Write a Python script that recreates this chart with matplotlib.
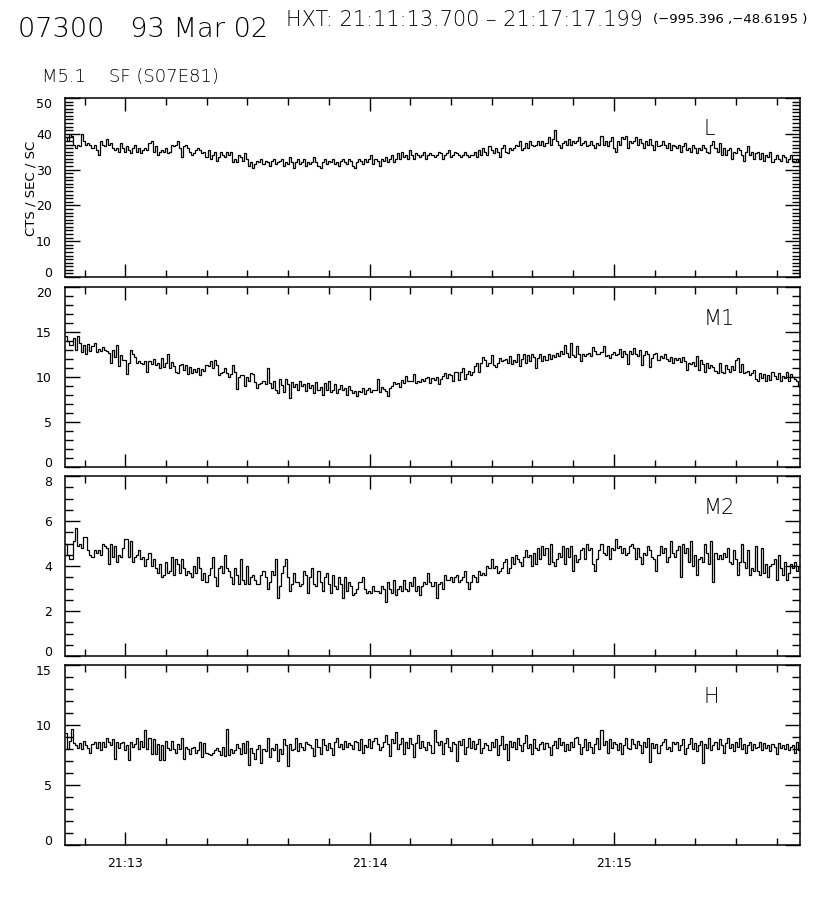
import numpy as np
import matplotlib
matplotlib.use("Agg")
import matplotlib.pyplot as plt
from matplotlib.ticker import MultipleLocator, FixedLocator

# ---------------- data (counts / sec / SC, 0.5 s bins) ----------------
t_start = 45.2          # seconds after 21:12:00
bin_sec = 0.5

L_vals = [
 39,38,40,39.5,37,36,37,36.5,40,38,37,37.5,37,36,37,35.5,34,38,37,36.5,
 38.5,37,37.5,36,35.5,36,35,37.5,36,35,36.5,35.5,34.5,36,37,35,36,34.5,35.5,36,
 35.5,37.5,38,35,36.5,34,35,35.5,35,36,34.5,35,37,36.5,37,38,36,33.5,36.5,37,
 36,35,34,34.5,35.5,36,35.5,34.5,35,33.5,35.5,33,34,35,32.5,33.5,35,34,33.5,35,
 34,35,32,33,32,34,33.5,32.5,34.5,33,31,32,30.5,31.5,32.5,32,33,31.5,32.5,32,
 31,32.5,33,31.5,32,32.5,33,31,32,31.5,33.5,32,30.5,32,33,31.5,32,33,31,32,
 31.5,32,33.5,32,31,30.5,32,33,31.5,32.5,32,33,31.5,32,31,32.5,33,32,31.5,33,
 32.5,31,30.5,32,33,32.5,31.5,33,32,33,34,31.5,33,32.5,31,33,32.5,33.5,32,33,
 34,32,33,34.5,33,35,33.5,34,33,35.5,34,33,34.5,34,33.5,34,35,33,34,34.5,
 34,33.5,34,35,34.5,33,34,34.5,35.5,33.5,34,35,34.5,34,33.5,34,35,34,33.5,34,
 34,35,33.5,35.5,34,36,35,34,36.5,35.5,34.5,36,35,33.5,36,37,35,34.5,36,35.5,
 36,37,36.5,38,35.5,36,37.5,36,38,37,36.5,37,38,37,38,36.5,37.5,39,37,38.5,
 41,38,37,36,37.5,38,37,38.5,37,38,37.5,38,39,37,37.5,38,36.5,37,38,37,
 36,37.5,37,39.5,37,38,36.5,38,39,36,35,38,37,39,38.5,39.5,36,38,37.5,38,
 39,37,38.5,37.5,36,38,37,38.5,37,35.5,38,36.5,37,38,37,36,37.5,35.5,37,36.5,
 36,37,35,36.5,37.5,35.5,36,35,37,36,34.5,36,35.5,37,36,35,34.5,37,38,36,
 35,37.5,34,36,34,35.5,36,33,35,34.5,36,35.5,34,32.5,35,36.5,34,35,33,34.5,
 35,33,34.5,32.5,34,33.5,35,32,33,34,33,32.5,34,33.5,32,33,34,32.5,32,33,
 32.5]

M1_vals = [
 14.5,14,13.5,13.5,14.3,13,14.5,13.8,12.8,13.6,12.6,13.7,12.9,13.4,13.8,12.8,13.1,12.9,13.3,13.0,
 12.9,12.7,11.6,13,12.2,13.5,11.2,12.4,11.9,11.9,10.3,11.5,13,12.5,12.2,11.5,11.8,11.6,11.4,11.8,
 10.5,11.8,11.4,12,11.3,11.6,11,12.1,11.1,11.6,12.6,11,11.7,11.2,10.6,10.4,11.3,11.4,10.8,11.3,
 10.3,11.1,10.4,10.9,10.6,11,10.2,10.9,10.7,11.3,11.2,11.8,11,11.9,11.3,10.2,10.4,10.6,11,10.4,
 10,10.3,11.3,10.5,8.7,10,10.2,10.2,9,10,9.6,10.4,10.3,9.4,8.8,9.2,9.3,9.5,9.2,11,
 9.3,8.8,9.6,8.6,8.2,9.8,9.1,8.3,9.8,9.2,7.7,9.4,8.9,9.2,8.5,9.5,9,9.2,8.4,9.3,
 8.8,9.1,8.2,9.4,8.6,8.9,8,9.3,8.5,9.6,8.3,8.6,9.2,8.2,8.7,9.1,8.5,8.8,8,9,
 8.6,8.2,8.4,7.9,8.4,8.3,8.8,8.1,8.6,8.8,8.3,8.5,8.5,9.8,8.3,8.9,8.7,8.4,7.9,8.8,
 9,9.4,9.2,9.3,8.9,9.7,9.3,10.1,9.6,9.5,9.6,10.3,9.3,9.5,9.4,9.8,9.5,9.9,10,9.3,
 9.9,9.7,10,9.2,9.8,10.1,10.4,9.9,10.3,10.2,9.6,10.5,10.6,9.7,10.6,11,9.8,10.3,10.7,10.2,
 10.6,11.2,11.5,10.5,11.5,12.2,11.9,11.2,11.5,12.4,11.3,11.1,11.6,12.1,11.8,11.9,12,11.5,12.3,11.4,
 11.9,11.7,12.5,11.2,12,12.6,11.6,12.4,11.8,12.5,12.2,11,12.1,12.6,11.8,12.3,11.9,12.5,12,12.4,
 12.2,12.7,12.3,12.9,12.5,13.5,12.7,12.2,13.8,12.4,12.2,13.4,12.5,11.8,12.6,12.3,12.5,12.7,12.3,13.3,
 12.9,12.6,12.5,12.8,13.4,12.3,12.4,12.1,12.6,12.8,12.4,12.6,13.1,12.2,12.9,12.6,11.4,12.9,12.6,13.2,
 12.5,12.3,13,11.3,12.4,12.9,12.6,11.1,12.1,12.6,12.7,11.9,12.3,12.1,12.5,12,11.8,12.2,11.6,12.1,
 11.9,12.1,11.7,12.2,11.8,10.8,11.6,11.4,11.7,11.2,12.3,10.8,11.9,11.4,10.6,11.6,11,11.3,11.1,10.7,
 10.4,11.5,10.6,10.4,11.3,10.9,10.6,11.2,10.8,11.9,12.1,10.5,11.4,10.4,10.5,10.7,10.2,10.4,10.8,9.8,
 9.5,10.4,9.9,10.3,9.6,10.2,9.7,10.5,10.1,9.8,10.4,9.5,10.1,9.9,10.6,9.5,10.3,10,9.8,9.6,
 9.0]

M2_vals = [
 5.0,4.5,4.3,4.3,5.1,5.7,4.9,5.0,4.8,5.3,5.3,4.7,4.5,4.4,4.7,4.6,4.7,4.5,5.0,4.9,
 4.8,4.1,5.0,4.4,4.9,4.2,4.5,4.4,4.8,5.2,5.2,4.4,5.1,4.2,4.4,4.5,4.7,4.3,4.4,4.0,
 4.3,4.6,4.0,4.3,3.9,3.7,4.1,3.5,3.6,4.2,3.7,3.8,4.4,3.6,4.3,4.1,3.7,4.3,3.9,3.6,
 3.8,3.7,3.5,4.0,3.7,4.4,3.9,3.4,3.7,3.3,3.6,3.9,4.4,3.5,3.1,3.9,4.0,3.7,4.5,3.9,
 3.8,3.5,3.2,3.9,3.6,3.2,4.3,3.4,3.2,4.0,3.2,3.5,3.6,3.4,3.2,3.2,3.6,3.8,3.5,3.0,
 3.3,3.8,3.6,4.3,2.6,3.1,3.7,4.0,4.3,3.5,2.9,3.2,3.7,3.3,3.3,3.1,3.2,3.8,3.6,2.8,
 3.5,3.9,3.2,3.1,3.8,3.3,2.9,3.5,3.7,3.2,2.8,3.6,3.1,3.0,3.5,3.2,2.6,3.5,2.9,3.3,
 3.1,2.7,2.8,3.0,3.3,3.3,3.5,3.0,2.8,2.9,2.8,3.1,2.9,2.9,2.8,3.1,3.0,2.4,3.3,3.0,
 2.8,3.4,2.7,3.0,3.1,2.9,3.4,3.0,2.9,3.3,3.1,3.5,2.9,3.1,2.7,3.1,3.3,3.2,3.7,3.3,
 3.1,3.3,2.6,3.2,3.3,3.0,3.6,3.4,3.4,3.5,3.3,3.5,3.6,3.3,3.4,3.5,3.8,3.3,3.0,3.3,
 3.6,3.5,3.3,3.8,3.6,3.7,3.6,4.0,3.9,4.3,3.9,4.0,3.7,3.8,3.9,4.2,4.3,3.7,3.9,4.4,
 4.1,4.5,4.3,4.2,4.0,4.4,4.7,4.4,4.5,4.0,4.6,4.1,4.8,4.3,4.9,4.5,4.8,4.1,5.0,4.2,
 4.0,4.3,4.6,4.4,4.9,4.1,4.8,4.4,4.9,3.8,4.5,4.2,4.3,4.7,4.8,4.3,5.0,4.7,4.8,4.1,
 3.8,4.3,4.7,5.0,4.6,4.5,4.9,4.3,4.8,4.7,5.2,4.8,4.9,4.6,4.8,4.5,4.6,4.9,5.0,4.8,
 4.3,4.8,4.4,4.1,4.6,4.5,4.9,4.7,4.4,4.3,3.8,4.5,4.9,4.6,4.8,4.2,4.4,5.1,4.6,4.4,
 4.7,4.9,3.5,5.0,4.6,4.8,4.2,5.1,4.0,4.5,3.6,4.3,4.4,4.2,5.0,4.6,4.1,5.1,3.3,4.6,
 4.3,4.5,4.3,4.6,4.4,4.8,4.2,4.1,4.7,4.3,3.6,4.2,5.0,4.2,3.9,4.7,3.6,3.9,3.8,4.9,
 3.8,3.6,4.8,3.7,4.1,3.5,4.0,4.1,4.3,3.4,4.5,3.9,3.6,4.2,3.4,3.7,4.1,3.9,4.2,3.8,
 4.0]

H_vals = [
 9.3,8.0,8.7,9.7,8.5,8.3,8.1,8.5,8.0,8.7,8.3,8.1,7.7,8.4,8.6,8.1,8.6,7.9,8.6,8.2,
 8.9,8.6,8.3,8.8,7.2,8.6,8.1,8.5,8.6,7.9,8.3,7.1,8.6,8.2,8.4,8.9,8.0,8.7,8.2,9.6,
 8.0,8.9,7.6,8.8,7.6,8.4,7.1,8.3,7.1,8.7,8.1,7.9,8.7,8.0,7.7,8.4,8.0,8.9,7.2,8.2,
 8.0,7.6,8.1,8.2,7.7,7.9,8.6,7.3,8.5,7.7,7.6,7.5,7.7,7.9,8.1,7.8,7.5,8.2,7.4,9.7,
 7.5,8.0,7.7,7.9,8.4,8.1,7.6,8.5,7.7,8.7,6.7,8.1,7.7,7.2,8.0,8.3,6.8,8.0,7.8,8.9,
 7.3,8.1,7.9,8.4,7.0,8.0,7.6,8.8,8.3,6.6,8.4,7.9,8.0,8.9,7.8,8.5,8.2,7.9,8.6,8.4,
 8.3,8.1,7.4,8.8,8.2,7.6,8.8,8.3,7.9,8.5,8.1,7.5,8.6,8.9,8.2,8.4,8.0,8.7,8.2,8.5,
 8.3,8.0,8.7,8.6,7.9,8.8,7.7,8.3,8.2,8.8,8.1,8.7,8.9,8.4,7.9,8.2,8.6,9.2,8.4,7.4,
 8.8,8.5,9.4,8.0,8.4,8.9,7.6,8.6,8.1,8.9,8.4,7.3,8.5,9.2,8.1,8.7,8.2,7.9,8.6,8.3,
 7.7,9.6,8.6,8.3,8.7,7.6,8.5,8.9,8.2,7.8,8.6,8.4,7.0,8.7,8.3,8.8,7.6,8.2,8.9,8.1,
 8.7,8.0,8.4,8.8,7.7,8.1,8.5,8.3,7.9,8.6,8.2,8.8,7.5,8.3,9.1,8.0,8.4,7.1,8.7,8.2,
 8.6,8.0,8.9,8.3,7.8,8.5,9.2,8.1,8.4,7.6,8.8,8.1,7.9,8.4,8.6,8.0,8.5,8.2,7.5,8.3,
 8.7,8.1,8.9,8.3,8.6,7.8,8.4,7.9,8.6,8.2,8.9,9.0,8.4,7.6,8.2,8.8,7.9,8.6,8.2,7.7,
 8.4,8.9,8.0,9.6,8.3,8.7,7.7,8.8,8.1,8.6,8.4,7.9,8.5,7.6,8.3,8.9,8.1,8.0,8.8,8.4,
 8.1,8.7,8.3,7.7,8.6,8.2,8.9,6.9,8.5,8.1,8.4,7.7,8.3,8.6,8.8,8.0,8.2,7.8,8.6,8.4,
 8.6,7.9,8.3,8.8,7.6,8.1,8.4,8.9,8.0,8.5,7.8,8.3,8.7,6.8,8.4,8.1,8.9,7.9,8.3,8.6,
 8.0,8.8,8.3,7.7,8.5,8.9,8.1,8.4,7.8,8.6,8.2,8.9,8.0,8.4,7.7,8.3,8.6,7.9,8.4,8.1,
 8.2,8.6,7.9,8.5,8.1,8.3,7.8,8.4,8.2,7.6,8.5,8.1,8.3,8.0,8.4,7.9,8.2,8.3,7.7,8.6,
 7.9]

channels = ["L", "M1", "M2", "H"]
series = [L_vals, M1_vals, M2_vals, H_vals]
y_max = [50, 20, 8, 15]
y_major = [10, 5, 2, 5]
y_minor = [1, 1, 0.5, 1]
x_major = [60, 120, 180]
x_major_labels = ["21:13", "21:14", "21:15"]

# ---------------- figure ----------------
W, H = 816, 900
fig = plt.figure(figsize=(W / 100, H / 100), dpi=100)
fam = ["DejaVu Sans"]

def fx(px):
    return px / W

def fy(py):
    return 1 - py / H

panel_px = [(98, 277), (287, 467), (476, 656), (665, 845)]
left_px, right_px = 65, 800
ax_w = right_px - left_px

t_end = t_start + bin_sec * len(L_vals)

for i, (name, vals) in enumerate(zip(channels, series)):
    top, bot = panel_px[i]
    ax = fig.add_axes([fx(left_px), fy(bot), fx(ax_w), (bot - top) / H])
    edges = t_start + bin_sec * np.arange(len(vals) + 1)
    ax.stairs(vals, edges, baseline=None, color="black", lw=0.9)
    ax.set_xlim(t_start, t_end)
    ax.set_ylim(0, y_max[i])
    for s in ax.spines.values():
        s.set_linewidth(1.1)
    ax.yaxis.set_major_locator(MultipleLocator(y_major[i]))
    ax.yaxis.set_minor_locator(MultipleLocator(y_minor[i]))
    ax.xaxis.set_major_locator(FixedLocator(x_major))
    ax.xaxis.set_minor_locator(MultipleLocator(10))
    ax.tick_params(axis="both", which="both", direction="in",
                   top=True, right=True, color="black")
    ax.tick_params(axis="y", which="major", length=11, width=1.0,
                   labelleft=False)
    ax.tick_params(axis="y", which="minor", length=5.5, width=1.0)
    ax.tick_params(axis="x", which="major", length=9.5, width=1.0, pad=8.5,
                   labelsize=9)
    ax.tick_params(axis="x", which="minor", length=5, width=1.0)
    # y tick labels drawn IDL-style: end labels kept inside the panel height
    yt = ax.get_yaxis_transform()
    ticks = np.arange(0, y_max[i] + 1e-9, y_major[i])
    for v in ticks:
        if v == 0:
            va = "baseline"
        elif np.isclose(v, y_max[i]):
            va = "top"
        else:
            va = "center_baseline"
        ax.text(-13 / ax_w, v, f"{v:g}", transform=yt, ha="right", va=va,
                fontsize=9, family=fam)
    if i == 3:
        ax.set_xticklabels(x_major_labels, family=fam)
    else:
        ax.set_xticklabels([])
    ax.text(0.869, 0.88, name, transform=ax.transAxes, ha="left", va="top",
            fontsize=15, family=fam, fontweight="light")
    if i == 0:
        fig.text(fx(31), fy(188), "CTS / SEC / SC", rotation=90,
                 ha="center", va="center", fontsize=9.5, family=fam)

# ---------------- titles ----------------
fig.text(fx(18), fy(37), "07300   93 Mar 02", ha="left", va="baseline",
         fontsize=19.5, family=fam, fontweight="light")
fig.text(fx(286), fy(26), "HXT: 21:11:13.700 \u2013 21:17:17.199", ha="left",
         va="baseline", fontsize=15, family=fam, fontweight="light")
fig.text(fx(653), fy(23), "(\u2212995.396 ,\u221248.6195 )", ha="left",
         va="baseline", fontsize=9.5, family=fam)
fig.text(fx(42), fy(82), "M5.1    SF (S07E81)", ha="left", va="baseline",
         fontsize=13, family=fam, fontweight="light")

fig.savefig("out.png", dpi=100, facecolor="white")
